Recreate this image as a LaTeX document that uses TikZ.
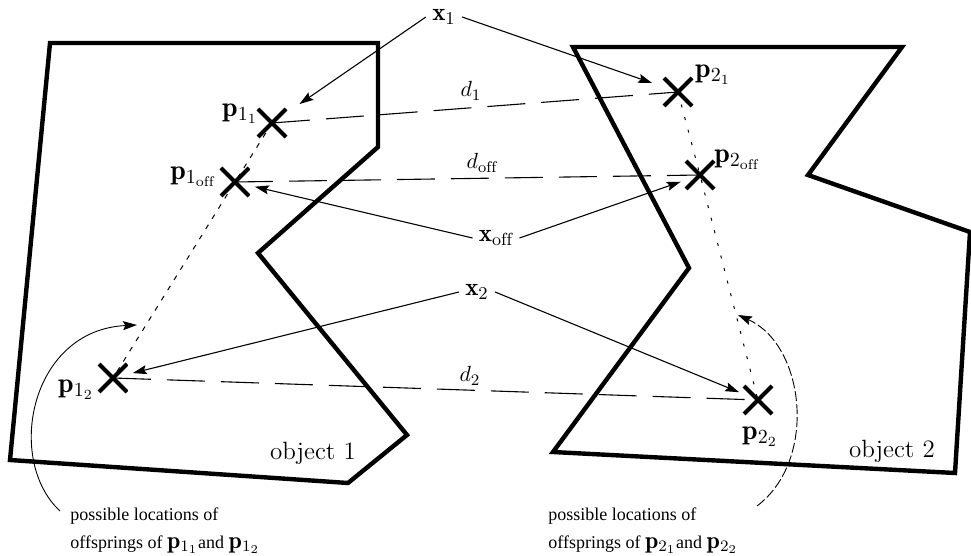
\documentclass[tikz,border=0pt]{standalone}
\usepackage{fontspec}
\newfontfamily\notefont{Liberation Serif}
\usetikzlibrary{arrows.meta}
\begin{document}
\begin{tikzpicture}[x=0.5pt,y=-0.5pt,
  obj/.style={line width=2.2pt, line join=miter},
  ptmark/.style={circle, minimum size=20pt, inner sep=0pt,
    path picture={\draw[line width=2pt]
      ([shift={(-7pt,-7pt)}]path picture bounding box.center) -- ([shift={(7pt,7pt)}]path picture bounding box.center)
      ([shift={(-7pt,7pt)}]path picture bounding box.center) -- ([shift={(7pt,-7pt)}]path picture bounding box.center);}},
  arr/.style={line width=0.55pt, -{Stealth[length=7pt,width=4.5pt,inset=1.2pt]}},
  dist/.style={line width=0.55pt, dash pattern=on 19pt off 8pt},
  trailA/.style={line width=0.5pt, dash pattern=on 2.5pt off 3.5pt},
  trailB/.style={line width=0.5pt, dash pattern=on 1.5pt off 5pt},
  plab/.style={inner sep=0pt, font=\fontsize{14}{16}\selectfont},
  xlab/.style={inner sep=3pt, font=\fontsize{12.5}{15}\selectfont},
  dlab/.style={inner sep=0pt, font=\fontsize{11}{13}\selectfont},
  objlab/.style={inner sep=0pt, font=\fontsize{12.5}{15}\selectfont},
  note/.style={inner sep=0pt, anchor=base west, font=\notefont\fontsize{9}{11}\selectfont}
]
\path[use as bounding box] (0,0) rectangle (971,556);

% objects
\draw[obj] (50,43) -- (378,43) -- (378,147) -- (258,253) -- (407,435) -- (348,483) -- (10,460) -- cycle;
\draw[obj] (573,47) -- (902,47) -- (808,175) -- (970,232) -- (955,473) -- (553,452) -- (689,268) -- cycle;
\node[objlab] (o1) at (313,453) {object 1};
\node[objlab] (o2) at (892,451) {object 2};

% points
\node[ptmark] (p11) at (272,123) {};
\node[ptmark] (p1off) at (235,182) {};
\node[ptmark] (p12) at (113,378) {};
\node[ptmark] (p21) at (678,92) {};
\node[ptmark] (p2off) at (700,175) {};
\node[ptmark] (p22) at (758,400) {};

\node[plab] (l11) at (240,114) {$\mathbf{p}_{1_1}$};
\node[plab] (l1off) at (193,177) {$\mathbf{p}_{1_{\mathrm{off}}}$};
\node[plab] (l12) at (76,390) {$\mathbf{p}_{1_2}$};
\node[plab] (l21) at (713,75) {$\mathbf{p}_{2_1}$};
\node[plab] (l2off) at (737,160) {$\mathbf{p}_{2_{\mathrm{off}}}$};
\node[plab] (l22) at (760,437) {$\mathbf{p}_{2_2}$};

% trails
\draw[trailA] (p11.center) -- (p1off.center) -- (p12.center);
\draw[trailB] (p21.center) -- (p2off.center) -- (p22.center);

% distances
\draw[dist] (p11.center) -- (p21.center);
\draw[dist] (p1off.center) -- (p2off.center);
\draw[dist] (p12.center) -- (p22.center);
\node[dlab] (d1) at (471,91) {$d_1$};
\node[dlab] (doff) at (482,163) {$d_{\mathrm{off}}$};
\node[dlab] (d2) at (470,376) {$d_2$};

% x labels and arrows
\node[xlab] (x1) at (444,17) {$\mathbf{x}_1$};
\node[xlab] (xoff) at (496,238) {$\mathbf{x}_{\mathrm{off}}$};
\node[xlab] (x2) at (477,292) {$\mathbf{x}_2$};
\draw[arr, shorten >=6.5pt] (x1.west) -- (p11);
\draw[arr, shorten >=3.5pt] (x1.east) -- (p21);
\draw[arr] (xoff.west) -- (p1off);
\draw[arr] (xoff.east) -- (p2off);
\draw[arr] (x2.west) -- (p12);
\draw[arr] (x2.east) -- (p22);

% notes
\node[note] (n1a) at (70,520) {possible locations of};
\node[note] (n1b) at (70,548) {offsprings of {\fontsize{12}{12}\selectfont$\mathbf{p}_{1_1}$}and {\fontsize{12}{12}\selectfont$\mathbf{p}_{1_2}$}};
\node[note] (n2a) at (548,520) {possible locations of};
\node[note] (n2b) at (548,548) {offsprings of {\fontsize{12}{12}\selectfont$\mathbf{p}_{2_1}$}and {\fontsize{12}{12}\selectfont$\mathbf{p}_{2_2}$}};

\coordinate (c1) at (60,511);
\coordinate (c2) at (137,325);
\coordinate (c3) at (757,506);
\coordinate (c4) at (738,315);
\draw[arr, line width=0.45pt] (c1) .. controls (5,460) and (30,330) .. (c2);
\draw[arr, line width=0.45pt, dash pattern=on 5pt off 1.5pt] (c3) .. controls (818,460) and (805,345) .. (c4);
\end{tikzpicture}
\end{document}
